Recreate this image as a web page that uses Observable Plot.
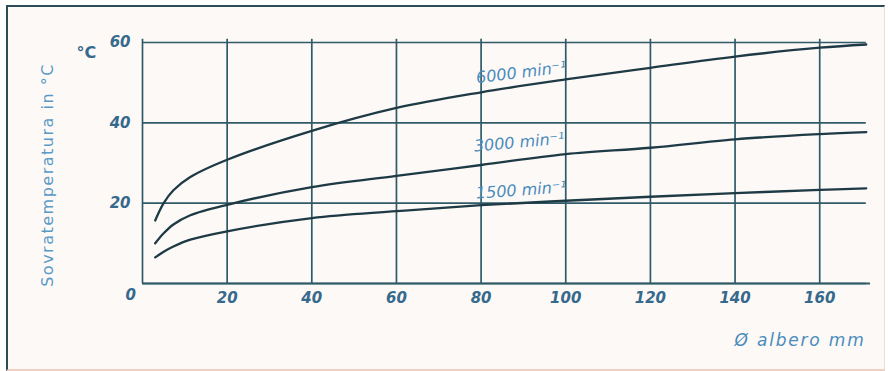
<!DOCTYPE html>
<html><head><meta charset="utf-8">
<script src="https://cdn.jsdelivr.net/npm/d3@7"></script>
<script src="https://cdn.jsdelivr.net/npm/@observablehq/plot@0.6"></script>
<style>
html,body{margin:0;padding:0;background:#fff;}
#wrap{position:relative;width:888px;height:371px;overflow:hidden;background:#fff;}
#frame{position:absolute;left:6px;top:5px;width:876px;height:362px;background:#fdf9f7;border-top:2px solid #2b4b56;border-left:2px solid #2b4b56;border-right:1px solid #f2dcd2;border-bottom:2px solid #f0d0c2;}
#chart{position:absolute;left:0;top:0;}
</style></head><body><div id="wrap"><div id="frame"></div><div id="chart"></div></div>
<script>
// Tick values
const xTicks = [20, 40, 60, 80, 100, 120, 140, 160];
const yTicks = [20, 40, 60];
const gridY = [0, 20, 40, 60];
const gridX = [0, 20, 40, 60, 80, 100, 120, 140, 160];

// Shaft diameter (mm) and over-temperature (°C) per speed
const x6000 = [3, 5, 7.3, 11.3, 20, 40, 60, 80, 100, 120, 140, 160, 171];
const y6000 = [15.7, 20, 23.2, 26.5, 30.8, 38, 43.7, 47.6, 50.8, 53.7, 56.5, 58.7, 59.5];
const x3000 = [3, 5, 7.3, 11.3, 20, 40, 60, 80, 100, 120, 140, 160, 171];
const y3000 = [10, 12.5, 14.7, 17, 19.6, 24, 26.8, 29.5, 32.2, 33.8, 35.9, 37.2, 37.7];
const x1500 = [3, 5, 7.3, 11.3, 20, 40, 60, 80, 100, 120, 140, 160, 171];
const y1500 = [6.5, 7.9, 9.2, 10.9, 13, 16.3, 18, 19.5, 20.6, 21.6, 22.5, 23.3, 23.7];

// Curve labels
const labelText = ["6000 min⁻¹", "3000 min⁻¹", "1500 min⁻¹"];
const labelX = [89.5, 89, 89.5];
const labelY = [52.5, 35.1, 23.2];
const labelRot = [-7, -5, -4];

// Axis titles
const xTitle = "Ø albero mm";
const yTitle = "Sovratemperatura in °C";
const unitText = "°C";

const curves = [
  ...x6000.map((x, i) => ({x, y: y6000[i], s: "6000"})),
  ...x3000.map((x, i) => ({x, y: y3000[i], s: "3000"})),
  ...x1500.map((x, i) => ({x, y: y1500[i], s: "1500"}))
];
const labels = labelText.map((t, i) => ({t, x: labelX[i], y: labelY[i], r: labelRot[i]}));

const gridColor = "#2f5a68";
const lineColor = "#1d3a45";
const tickColor = "#36698c";
const textColor = "#4a8cbc";

const chart = Plot.plot({
  width: 888,
  height: 371,
  marginLeft: 142,
  marginRight: 18,
  marginTop: 42,
  marginBottom: 88,
  x: {domain: [0, 172]},
  y: {domain: [0, 60]},
  style: {background: "transparent", fontFamily: "DejaVu Sans, sans-serif"},
  marks: [
    Plot.ruleY(gridY, {x1: 0, x2: 171, stroke: gridColor, strokeWidth: 1.7}),
    Plot.ruleY([0], {x1: 0, x2: 172, stroke: gridColor, strokeWidth: 2}),
    Plot.ruleX(gridX, {y1: 0, y2: 60.8, stroke: gridColor, strokeWidth: 1.7}),
    Plot.line(curves, {x: "x", y: "y", z: "s", curve: "catmull-rom", stroke: lineColor, strokeWidth: 2.3}),
    Plot.axisX({ticks: xTicks, tickSize: 0, tickPadding: 9, label: null, fontSize: 15, fontStyle: "italic", fontWeight: "bold", fill: tickColor}),
    Plot.axisY({ticks: yTicks, tickSize: 0, tickPadding: 12, label: null, fontSize: 15, fontStyle: "italic", fontWeight: "bold", fill: tickColor}),
    Plot.text(["0"], {frameAnchor: "bottom-left", dx: -17, dy: 16, fontSize: 15, fontStyle: "italic", fontWeight: "bold", fill: tickColor}),
    Plot.text(labels, {x: "x", y: "y", text: "t", rotate: "r", fontSize: 16, fontStyle: "italic", fill: textColor}),
    Plot.text([unitText], {frameAnchor: "top-left", dx: -66, dy: 4, fontSize: 16, fontWeight: "bold", fill: tickColor}),
    Plot.text([xTitle], {frameAnchor: "bottom-right", textAnchor: "end", dx: -5, dy: 62, fontSize: 17, fontStyle: "italic", fill: textColor}),
    Plot.text([yTitle], {frameAnchor: "left", textAnchor: "middle", dx: -95, dy: 12, rotate: -90, fontSize: 16, fill: "#5a9ac6"})
  ]
});
d3.select(chart).selectAll("text").each(function() {
  if (this.textContent === xTitle) this.style.letterSpacing = "1.8px";
  if (this.textContent === yTitle) this.style.letterSpacing = "1.5px";
});
document.getElementById("chart").appendChild(chart);
</script>
</body></html>
